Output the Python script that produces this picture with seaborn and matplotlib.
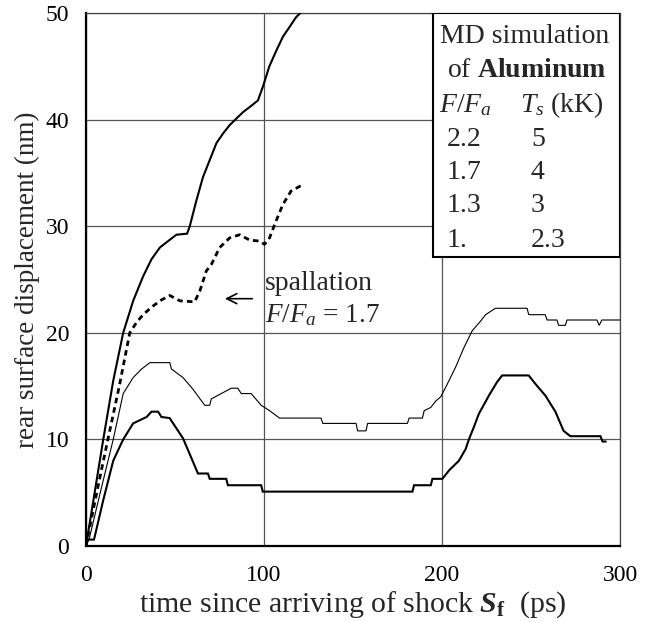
import numpy as np
import pandas as pd
import matplotlib
matplotlib.use("Agg")
import matplotlib.pyplot as plt
import seaborn as sns
from matplotlib.patches import Rectangle

# ---------------- data ----------------
t_22 = [0, 9.7, 15.3, 20.9, 26.5, 32.1, 36.8, 41.5, 46.1, 50.8, 56.8, 58.3, 62, 65.7,
        69.5, 73.3, 77, 80.8, 84.5, 88.2, 92.9, 96.6, 99.4, 103, 107, 110.7, 114.4, 118, 121]
y_22 = [0, 10, 15.5, 20, 23, 25.3, 26.9, 28.0, 28.6, 29.2, 29.3, 30.0, 32.4, 34.6,
        36.2, 37.8, 38.7, 39.5, 40.1, 40.7, 41.3, 41.8, 43.1, 45, 46.5, 47.8, 48.7, 49.6, 50.1]

t_17 = [0, 6, 12.3, 18.7, 24.6, 28.5, 32.1, 36.8, 41.5, 47.1, 52.7, 61, 63.9, 67.6, 70.4,
        75.1, 80.7, 86.3, 91.9, 97.5, 100.3, 103.1, 106.8, 110.5, 115.2, 120.8]
y_17 = [0, 5, 10, 15, 20, 21, 21.7, 22.4, 23.0, 23.5, 23.0, 22.9, 23.9, 25.8, 26.4,
        28.0, 28.9, 29.2, 28.7, 28.6, 28.3, 28.9, 30.5, 32.0, 33.3, 33.8]

t_13 = [0, 2, 8, 15.3, 20.9, 26.5, 31.2, 35.9, 47.1, 48, 54.5, 60.1, 66.7, 69.5, 70.4, 76,
        81.6, 85.3, 87.2, 92.8, 98.4, 103.1, 108.7, 132, 133, 151.7, 152.6, 157.3, 158.2,
        180.6, 181.5, 189, 190, 193.7, 196.5, 199.3, 203, 207.7, 212.3, 217, 221.7, 224.5,
        230, 247.8, 248.7, 258, 259, 264.6, 265.5, 269.3, 270.2, 287, 288.3, 289.8, 300]
y_13 = [0, 0.8, 5, 10, 14.3, 15.8, 16.6, 17.2, 17.2, 16.6, 15.8, 14.7, 13.2, 13.2, 13.8, 14.3,
        14.8, 14.8, 14.3, 14.3, 13.2, 12.7, 12.0, 12.0, 11.5, 11.5, 10.8, 10.8, 11.5,
        11.5, 12.0, 12.0, 12.7, 13.0, 13.6, 14.0, 15.2, 16.8, 18.6, 20.2, 21.1, 21.7,
        22.3, 22.3, 21.7, 21.7, 21.2, 21.2, 20.7, 20.7, 21.2, 21.2, 20.7, 21.2, 21.2]

t_10 = [0, 1, 4.5, 9.7, 15.3, 20.9, 26.5, 34, 36.8, 40.5, 42.4, 47, 54.5, 62.9, 68.5, 69.5,
        78.8, 79.7, 98.4, 99.3, 183.4, 184.3, 193.7, 194.6, 200.2, 204, 209.5, 213.3, 215.1,
        218, 220.7, 226.3, 231, 233.8, 248.7, 252.5, 258.1, 263.7, 268.3, 272.1, 289, 290.2, 292]
y_10 = [0, 0.6, 0.6, 4.3, 8.0, 10.0, 11.5, 12.1, 12.6, 12.6, 12.1, 12.0, 10.1, 6.8, 6.8, 6.3,
        6.3, 5.7, 5.7, 5.1, 5.1, 5.7, 5.7, 6.3, 6.3, 7.1, 8.0, 9.1, 10.0,
        11.2, 12.4, 14.1, 15.4, 16.0, 16.0, 15.2, 14.1, 12.6, 10.8, 10.3, 10.3, 9.8, 9.8]

legend_ratio = ["2.2", "1.7", "1.3", "1."]
legend_ts = ["5", "4", "3", "2.3"]

x_major = [0, 100, 200, 300]
x_minor = [50, 150, 250]
y_major = [0, 10, 20, 30, 40, 50]
y_minor = [5, 15, 25, 35, 45]

# ---------------- style ----------------
sns.set_theme(style="white")
serif = "Liberation Serif"
plt.rcParams["font.family"] = [serif, "DejaVu Serif"]
plt.rcParams["mathtext.fontset"] = "custom"
plt.rcParams["mathtext.rm"] = serif
plt.rcParams["mathtext.it"] = serif + ":italic"
plt.rcParams["mathtext.bf"] = serif + ":bold"
plt.rcParams["mathtext.bfit"] = serif + ":italic:bold"

fig = plt.figure(figsize=(6.61, 6.22), dpi=100)
ax = fig.add_axes([0.1301, 0.1222, 0.8079, 0.8569])

def draw(t, y, lw, ls="-", dashes=None):
    df = pd.DataFrame({"t": t, "y": y})
    sns.lineplot(data=df, x="t", y="y", ax=ax, color="black", lw=lw, sort=False,
                 estimator=None, zorder=3)
    line = ax.lines[-1]
    line.set_linestyle(ls)
    if dashes is not None:
        line.set_dashes(dashes)
    line.set_solid_joinstyle("miter")

draw(t_22, y_22, 1.5)
draw(t_17, y_17, 2.0, "--", (2.0, 1.5))
draw(t_13, y_13, 0.8)
draw(t_10, y_10, 1.5)

ax.set_xlim(0, 300)
ax.set_ylim(0, 50)
ax.set_xticks(x_major)
ax.set_xticks(x_minor, minor=True)
ax.set_yticks(y_major)
ax.set_yticks(y_minor, minor=True)
ax.grid(True, which="major", color="#555555", lw=0.9, zorder=1)
ax.set_axisbelow(True)
ax.tick_params(which="both", direction="in", length=8, width=1.3, colors="black",
               labelsize=17, top=False, right=False)
ax.tick_params(axis="x", which="both", pad=14)
ax.tick_params(axis="y", which="both", pad=12)

for side in ["left", "bottom"]:
    ax.spines[side].set_linewidth(1.6)
    ax.spines[side].set_color("black")
for side in ["top", "right"]:
    ax.spines[side].set_linewidth(0.9)
    ax.spines[side].set_color("#444444")

ax.set_xlabel(r"time since arriving of shock $\mathbfit{S}_{\mathbf{f}}$  (ps)",
              fontsize=21.5, labelpad=2)
ax.set_ylabel("rear surface displacement (nm)", fontsize=19.5, labelpad=4)

# annotation
ax.text(100.3, 24.6, "spallation", fontsize=20, va="center", ha="left")
ax.text(100.3, 21.7, r"$F/F_a$ = 1.7", fontsize=19.5, va="center", ha="left")
ax.annotate("", xy=(76.5, 23.2), xytext=(95, 23.2),
            arrowprops=dict(arrowstyle="->", color="black", lw=1.2,
                            mutation_scale=18))

# legend box
ax.add_patch(Rectangle((0.65, 0.542), 0.35, 0.458, transform=ax.transAxes,
                       facecolor="white", edgecolor="black", lw=1.5, zorder=5))
fs = 20
ax.text(0.822, 0.955, "MD simulation", transform=ax.transAxes, fontsize=fs,
        ha="center", va="center", zorder=6)
ax.text(0.825, 0.893, r"of $\mathbf{Aluminum}$", transform=ax.transAxes, fontsize=fs,
        ha="center", va="center", zorder=6)
ax.text(0.661, 0.827, r"$F/F_a$", transform=ax.transAxes, fontsize=fs,
        ha="left", va="center", zorder=6)
ax.text(0.813, 0.827, r"$T_s$ (kK)", transform=ax.transAxes, fontsize=fs,
        ha="left", va="center", zorder=6)
row_y = [0.762, 0.700, 0.638, 0.574]
for r, ts, yy in zip(legend_ratio, legend_ts, row_y):
    ax.text(0.675, yy, r, transform=ax.transAxes, fontsize=fs, ha="left",
            va="center", zorder=6)
    ax.text(0.833, yy, ts, transform=ax.transAxes, fontsize=fs, ha="left",
            va="center", zorder=6)

fig.savefig("out.png", dpi=100)
